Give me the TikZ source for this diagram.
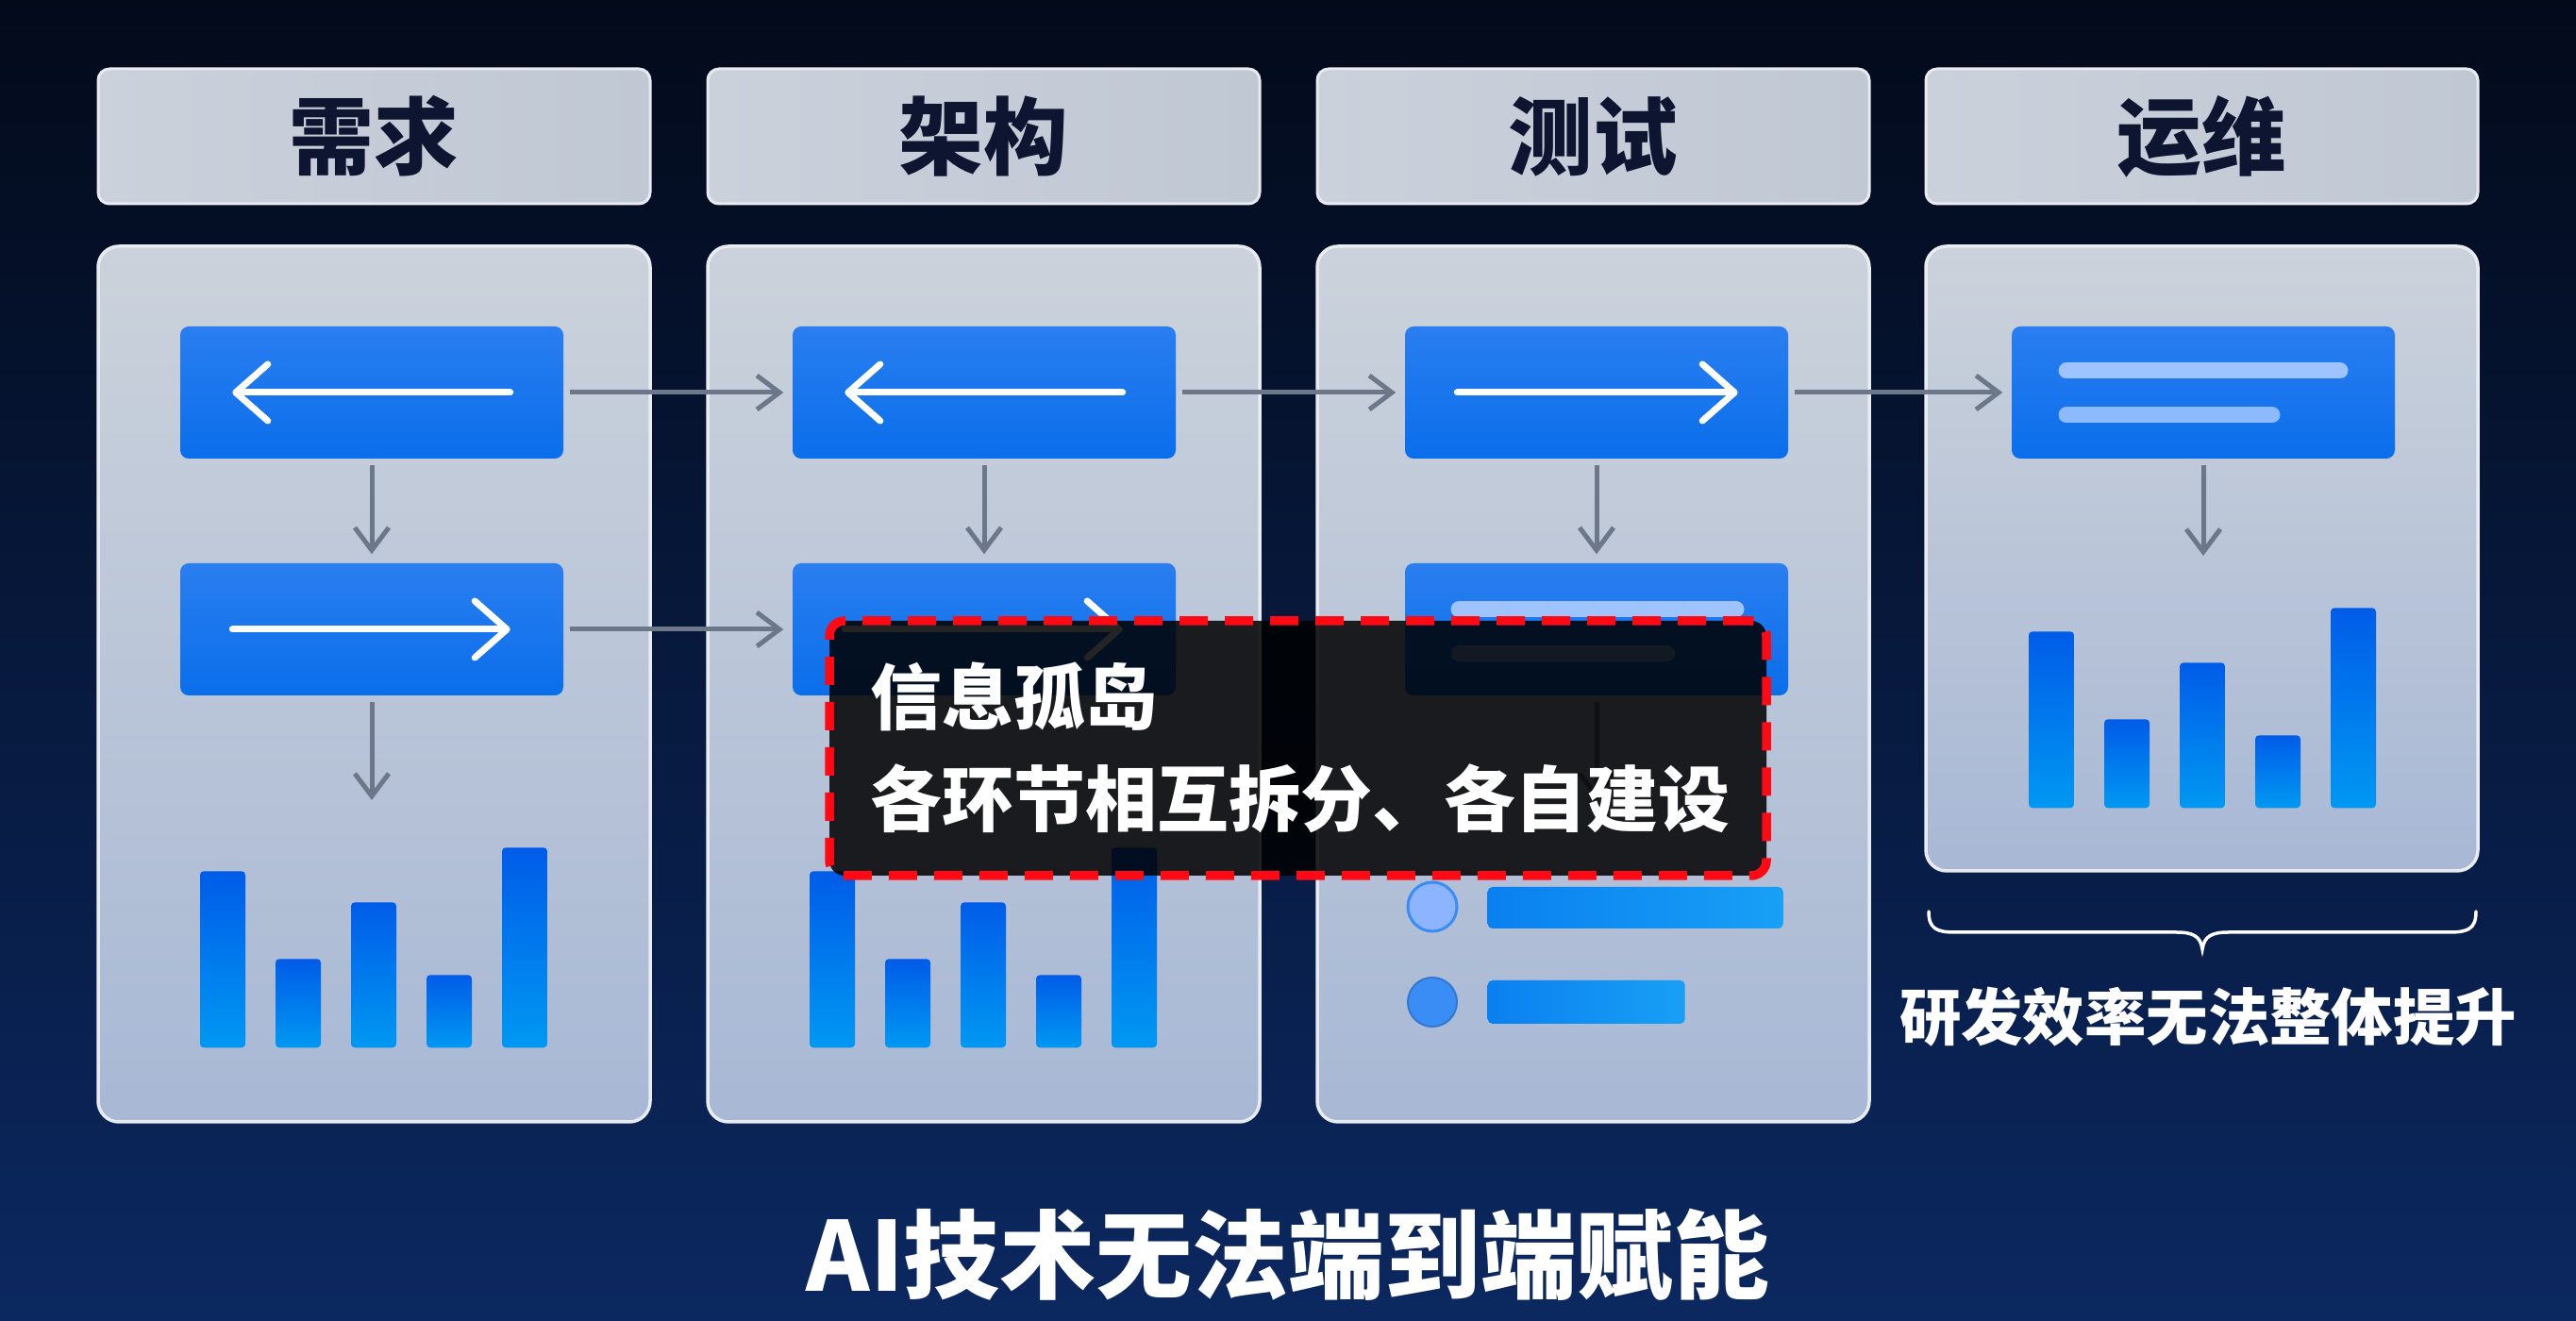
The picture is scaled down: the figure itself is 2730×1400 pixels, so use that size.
\documentclass[tikz,border=0pt]{standalone}
\usepackage{fontspec}
\newfontfamily\cjk{Noto Sans CJK SC}
\usetikzlibrary{arrows.meta}
\definecolor{bgtop}{HTML}{030A1A}
\definecolor{bgmid}{HTML}{061738}
\definecolor{bgbot}{HTML}{0B2860}
\definecolor{hdrL}{HTML}{CBD1DB}
\definecolor{hdrR}{HTML}{C0C8D4}
\definecolor{hdrtext}{HTML}{0E1530}
\definecolor{panT}{HTML}{CBD2DB}
\definecolor{panB}{HTML}{A8B8D5}
\definecolor{blueT}{HTML}{2A7EF0}
\definecolor{blueB}{HTML}{0A6EEB}
\definecolor{barT}{HTML}{005CE8}
\definecolor{barB}{HTML}{0098F2}
\definecolor{connC}{HTML}{6C7889}
\definecolor{lineL}{HTML}{9EC3FF}
\definecolor{itemL}{HTML}{0A80F0}
\definecolor{itemR}{HTML}{18A0F5}
\definecolor{dotA}{HTML}{8DB5FF}
\definecolor{dotB}{HTML}{3A8DF5}
\definecolor{isored}{HTML}{FF0A14}
\begin{document}
\begin{tikzpicture}[x=0.1mm,y=-0.1mm,
  header/.style={rectangle, rounded corners=1.2mm, left color=hdrL, right color=hdrR,
    draw=white!55!hdrL, line width=0.3mm, minimum width=58.5mm, minimum height=14.3mm,
    inner sep=0pt, text=hdrtext, font=\cjk\bfseries\fontsize{25.5}{28}\selectfont},
  panel/.style={rectangle, rounded corners=2.2mm, top color=panT, bottom color=panB,
    draw=white!55!panT, line width=0.35mm, minimum width=58.5mm, inner sep=0pt},
  bluebox/.style={rectangle, rounded corners=0.9mm, top color=blueT, bottom color=blueB,
    minimum width=40.6mm, minimum height=14mm, inner sep=0pt},
  barbox/.style={rectangle, rounded corners=0.4mm, top color=barT, bottom color=barB,
    minimum width=4.8mm, inner sep=0pt, anchor=south},
  conn/.style={draw=connC, line width=0.5mm, -{Straight Barb[length=2.4mm,width=3.6mm]},
    shorten <=0.6mm, shorten >=0.9mm},
  whitearrow/.style={draw=white, line width=0.7mm, line cap=round,
    -{Straight Barb[length=3.4mm,width=6mm,round]}},
  innerline/.style={draw=lineL, line width=1.7mm, line cap=round},
  itembar/.style={rectangle, rounded corners=0.5mm, left color=itemL, right color=itemR,
    inner sep=0pt, anchor=west},
  isobox/.style={rectangle, rounded corners=1.6mm, fill=black, fill opacity=0.86,
    draw=isored, line width=0.95mm, dash pattern=on 3mm off 1.8mm,
    minimum width=99.3mm, minimum height=27mm, inner sep=0pt},
  isotext/.style={anchor=west, inner sep=0pt, text=white,
    font=\cjk\bfseries\fontsize{21.6}{24}\selectfont},
  bigtext/.style={text=white, inner sep=0pt}
]
\path[use as bounding box] (0,0) rectangle (2730,1400);
\shade[top color=bgtop, middle color=bgmid, bottom color=bgbot] (0,0) rectangle (2730,1400);

% headers
\node[header] (h1) at (396.5,144.5) {需求};
\node[header] (h2) at (1042.5,144.5) {架构};
\node[header] (h3) at (1688.5,144.5) {测试};
\node[header] (h4) at (2333.5,144.5) {运维};

% panels
\node[panel, minimum height=92.8mm] (p1) at (396.5,725) {};
\node[panel, minimum height=92.8mm] (p2) at (1042.5,725) {};
\node[panel, minimum height=92.8mm] (p3) at (1688.5,725) {};
\node[panel, minimum height=66.2mm] (p4) at (2333.5,592) {};

% blue boxes
\node[bluebox] (b11) at (394,416) {};
\node[bluebox] (b12) at (394,667) {};
\node[bluebox] (b21) at (1043,416) {};
\node[bluebox] (b22) at (1043,667) {};
\node[bluebox] (b31) at (1692,416) {};
\node[bluebox] (b32) at (1692,667) {};
\node[bluebox] (b41) at (2335,416) {};

% white arrows in boxes
\draw[whitearrow] ([xshift=-5.7mm]b11.east) -- ([xshift=5.6mm]b11.west);
\draw[whitearrow] ([xshift=5.6mm]b12.west) -- ([xshift=-5.7mm]b12.east);
\draw[whitearrow] ([xshift=-5.7mm]b21.east) -- ([xshift=5.6mm]b21.west);
\draw[whitearrow] ([xshift=5.6mm]b22.west) -- ([xshift=-5.7mm]b22.east);
\draw[whitearrow] ([xshift=5.6mm]b31.west) -- ([xshift=-5.4mm]b31.east);

% inner lines
\draw[innerline] (1546,646) -- (1840,646);
\draw[innerline, draw=lineL!75!blueT] (1546,693) -- (1767,693);
\draw[innerline] (2190,393) -- (2480,393);
\draw[innerline, draw=lineL!85!blueT] (2190,440) -- (2408,440);

% bars
\foreach \cx/\by/\col in {396/1111/1, 1042/1111/2, 2334/857/4}{
  \foreach \dx/\hh [count=\i] in {-160/18.7mm, -80/9.4mm, 0/15.4mm, 80/7.7mm, 160/21.2mm}{
    \node[barbox, minimum height=\hh] (bar\col-\i) at (\cx+\dx,\by) {};
  }
}

% list items in testing column
\node[circle, fill=dotA, draw=dotB, line width=0.3mm, minimum size=5.2mm, inner sep=0pt] (d1) at (1518,961) {};
\node[circle, fill=dotB, draw=dotB!85!black, line width=0.2mm, minimum size=5.2mm, inner sep=0pt] (d2) at (1518,1062) {};
\node[itembar, minimum width=31.3mm, minimum height=4.4mm] (i1) at (1576,962) {};
\node[itembar, minimum width=20.9mm, minimum height=4.6mm] (i2) at (1576,1062) {};

% free ends of connectors
\coordinate (e1) at (394,848);
\coordinate (e3) at (1692,848);
\coordinate (e4) at (2335,589);

% connectors
\draw[conn] (b11.east) -- (b21.west);
\draw[conn] (b21.east) -- (b31.west);
\draw[conn] (b31.east) -- (b41.west);
\draw[conn] (b12.east) -- (b22.west);
\draw[conn] (b11.south) -- (b12.north);
\draw[conn] (b21.south) -- (b22.north);
\draw[conn] (b31.south) -- (b32.north);
\draw[conn, shorten >=0mm] (b12.south) -- (e1);
\draw[conn, shorten >=0mm] (b32.south) -- (e3);
\draw[conn, shorten >=0mm] (b41.south) -- (e4);

% brace
\draw[white, line width=0.35mm, line cap=round]
  (2044,966) .. controls (2044,984) and (2052,988) .. (2072,988) -- (2306,988)
  .. controls (2324,988) and (2332,992) .. (2334,1006)
  .. controls (2336,992) and (2344,988) .. (2362,988) -- (2596,988)
  .. controls (2616,988) and (2624,984) .. (2624,966);
\node[bigtext, font=\cjk\bfseries\fontsize{18.6}{21}\selectfont] (sub) at (2340,1078) {研发效率无法整体提升};

% information-island overlay
\node[isobox] (iso) at (1375.5,793) {};
\node[isotext] (iso1) at (922,738) {信息孤岛};
\node[isotext] (iso2) at (922,846) {各环节相互拆分、各自建设};

% title
\node[bigtext, font=\cjk\bfseries\fontsize{29}{32}\selectfont] (title) at (1365,1330) {AI技术无法端到端赋能};
\end{tikzpicture}
\end{document}
